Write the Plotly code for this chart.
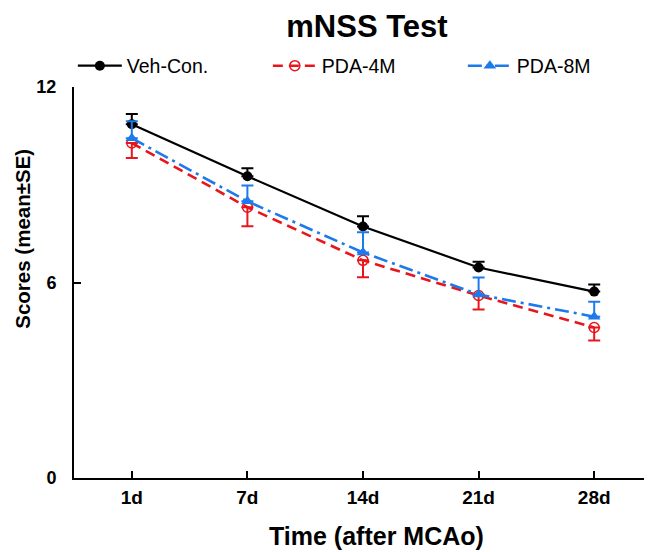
import plotly.graph_objects as go

days = ["1d", "7d", "14d", "21d", "28d"]
veh_mean = [10.86, 9.26, 7.72, 6.46, 5.72]
veh_se = [0.31, 0.25, 0.31, 0.18, 0.22]
pda4_mean = [10.28, 8.31, 6.68, 5.60, 4.62]
pda4_se = [0.46, 0.58, 0.52, 0.43, 0.40]
pda8_mean = [10.43, 8.49, 6.92, 5.63, 4.95]
pda8_se = [0.52, 0.49, 0.62, 0.52, 0.46]
y_ticks = [0, 6, 12]

FONT = "Liberation Sans, Arial, sans-serif"
BLACK = "#000000"
RED = "#e8161c"
BLUE = "#1c7aea"

fig = go.Figure()
zeros = [0] * len(days)

fig.add_trace(go.Scatter(
    x=days, y=veh_mean, name="Veh-Con.", mode="lines+markers",
    line=dict(color=BLACK, width=2.2),
    marker=dict(symbol="circle", size=10, color=BLACK),
    error_y=dict(type="data", symmetric=False, array=veh_se, arrayminus=zeros,
                 color=BLACK, thickness=2, width=6),
))
fig.add_trace(go.Scatter(
    x=days, y=pda4_mean, name="PDA-4M", mode="lines+markers",
    line=dict(color=RED, width=2.6, dash="10px,6px"),
    marker=dict(symbol="circle-open", size=10, color=RED, line=dict(width=1.5, color=RED)),
    error_y=dict(type="data", symmetric=False, array=zeros, arrayminus=pda4_se,
                 color=RED, thickness=2, width=6),
))
fig.add_trace(go.Scatter(
    x=days, y=pda8_mean, name="PDA-8M", mode="lines+markers",
    line=dict(color=BLUE, width=2.6, dash="14px,5px,3px,5px"),
    marker=dict(symbol="triangle-up", size=11, color=BLUE),
    error_y=dict(type="data", symmetric=False, array=pda8_se, arrayminus=zeros,
                 color=BLUE, thickness=2, width=6),
))

fig.update_layout(
    width=652, height=552,
    margin=dict(l=66, r=8, t=79, b=82, autoexpand=False),
    paper_bgcolor="white", plot_bgcolor="white",
    font=dict(family=FONT, color="black"),
    title=dict(text="<b>mNSS Test</b>", x=0.5506, xref="container", xanchor="center",
               y=0.9674, yref="container", yanchor="middle", font=dict(size=31, family=FONT)),
    showlegend=True,
    legend=dict(orientation="h", x=-0.002, xanchor="left", y=1.0537, yanchor="middle",
                font=dict(size=19.5, family=FONT), itemwidth=44,
                entrywidth=136, entrywidthmode="pixels",
                bgcolor="rgba(0,0,0,0)", traceorder="normal"),
    xaxis=dict(
        type="category", range=[-0.5, 4.5], showline=True, linecolor="black", linewidth=2,
        ticks="inside", ticklen=7, tickwidth=2, tickcolor="black", showgrid=False,
        zeroline=False, automargin=False, ticklabelstandoff=1,
        tickfont=dict(size=19, family=FONT, weight="bold"),
    ),
    yaxis=dict(
        range=[0, 12], tickvals=y_ticks, ticktext=[str(v) for v in y_ticks],
        showline=True, linecolor="black", linewidth=2,
        ticks="inside", ticklen=7, tickwidth=2, tickcolor="black", showgrid=False,
        zeroline=False, automargin=False, ticklabelstandoff=12,
        tickfont=dict(size=18, family=FONT, weight="bold"),
    ),
    annotations=[
        dict(text="<b>Time (after MCAo)</b>", xref="paper", yref="paper",
             x=0.524, y=-0.1483, xanchor="center", yanchor="middle", showarrow=False,
             font=dict(size=25, family=FONT)),
        dict(text="<b>Scores (mean±SE)</b>", xref="paper", yref="paper",
             x=-0.0882, y=0.612, xanchor="center", yanchor="middle", showarrow=False,
             textangle=-90, font=dict(size=20.5, family=FONT)),
    ],
)

fig.write_html("out.html")
